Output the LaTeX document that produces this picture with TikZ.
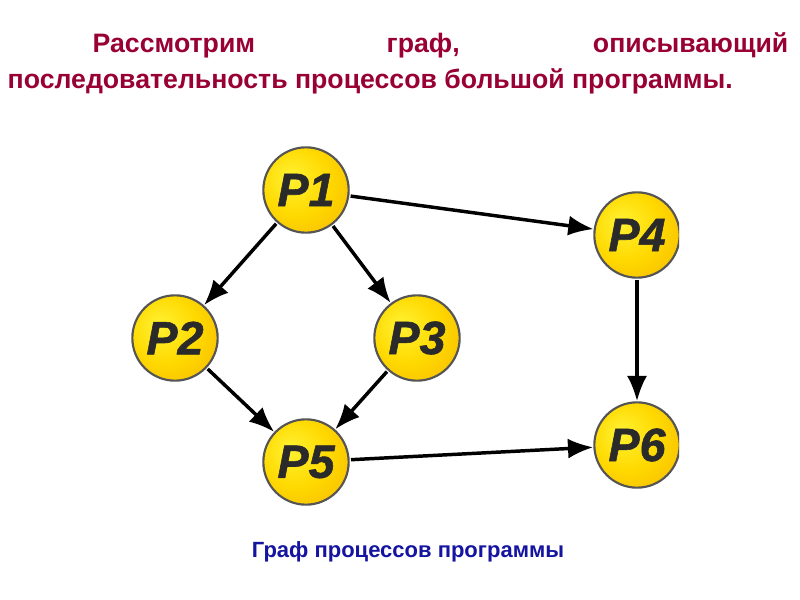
\documentclass[tikz,border=0pt]{standalone}
\usepackage{fontspec}
\setmainfont{Liberation Sans}
\newfontfamily\procfuente[FakeBold=1.2]{Liberation Sans}
\usetikzlibrary{arrows.meta}
\definecolor{titulo}{HTML}{990033}
\definecolor{pie}{HTML}{1414A0}
\definecolor{borde}{HTML}{555555}
\definecolor{letra}{HTML}{2A2A2A}
\pgfdeclareradialshading{bola}{\pgfpoint{-10bp}{8bp}}{rgb(0bp)=(1,0.95,0.2); rgb(20bp)=(1,0.85,0); rgb(42bp)=(0.96,0.71,0); rgb(60bp)=(0.94,0.66,0)}
\tikzset{
	proceso/.style={circle, draw=borde, line width=1.6pt, shading=bola, minimum size=64pt, inner sep=0pt,
		font=\procfuente\fontsize{35}{35}\selectfont\bfseries\itshape, text=letra},
	flecha/.style={-{Latex[length=19pt,width=15pt]}, line width=2.6pt, black, shorten <=1pt}
}
\begin{document}
\begin{tikzpicture}[x=0.75pt,y=-0.75pt]
	\useasboundingbox[fill=white] (0,0) rectangle (800,600);
	% Titulo
		\node (t1) [anchor=base west, text=titulo, font=\fontsize{20}{24}\selectfont\bfseries] at (88,52) {Рассмотрим};
		\node (t2) [anchor=base west, text=titulo, font=\fontsize{20}{24}\selectfont\bfseries] at (382,52) {граф,};
		\node (t3) [anchor=base east, text=titulo, font=\fontsize{20}{24}\selectfont\bfseries] at (793,52) {описывающий};
		\node (t4) [anchor=base west, text=titulo, font=\fontsize{20}{24}\selectfont\bfseries] at (3,88) {последовательность процессов большой программы.};
	% Procesos
	\begin{scope}
		\clip (0,0) rectangle (679,600);
		\node (p1) [proceso] at (306,190) {P1};
		\node (p2) [proceso] at (175,338) {P2};
		\node (p3) [proceso] at (417,338) {P3};
		\node (p4) [proceso] at (637,235) {P4};
		\node (p5) [proceso] at (306,462) {P5};
		\node (p6) [proceso] at (637,445) {P6};
	\end{scope}
	% Flechas
		\draw[flecha] (p1) -- (p2);
		\draw[flecha] (p1) -- (p3);
		\draw[flecha] (p1) -- (p4);
		\draw[flecha] (p2) -- (p5);
		\draw[flecha] (p3) -- (p5);
		\draw[flecha] (p4) -- (p6);
		\draw[flecha] (p5) -- (p6);
	% Pie
		\node (pie) [anchor=base, text=pie, font=\fontsize{16.5}{19}\selectfont\bfseries] at (408,557) {Граф процессов программы};
\end{tikzpicture}
\end{document}
